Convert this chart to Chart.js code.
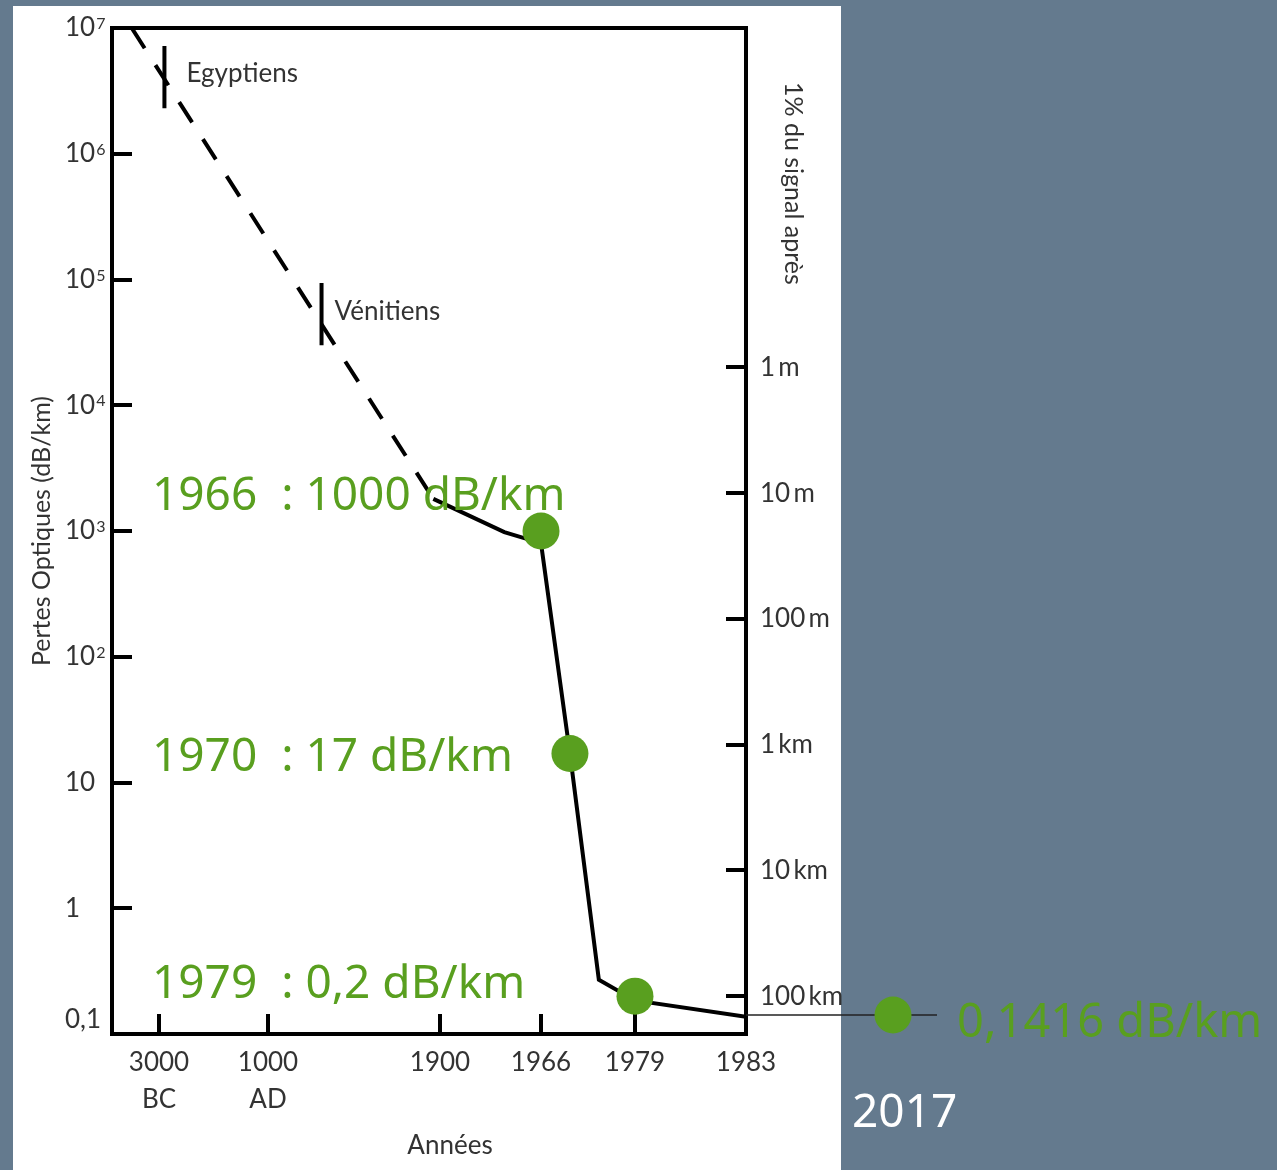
<!DOCTYPE html>
<html lang="fr">
<head>
<meta charset="utf-8">
<title>Pertes optiques des matériaux transparents</title>
<script src="https://cdn.jsdelivr.net/npm/chart.js@4.4.1/dist/chart.umd.min.js"></script>
<style>
  html, body { margin: 0; padding: 0; }
  body { width: 1277px; height: 1170px; background: #647a8e; position: relative; overflow: hidden; }
  #panel { position: absolute; left: 13px; top: 6px; width: 828px; height: 1164px; background: #ffffff; }
  #chart { position: absolute; left: 0; top: 0; }
</style>
</head>
<body>
<div id="panel"></div>
<canvas id="chart" width="1277" height="1170"></canvas>
<script>
// ---- Optical losses through history (dB/km) ----
const dashedYears = [-4000, 1865];
const dashedLoss = [1e7, 1800];
const solidYears = [1865, 1942, 1966, 1970, 1974, 1979, 1983];
const solidLoss = [1800, 980, 800, 17, 0.27, 0.185, 0.137];

const milestoneYears = [1966, 1970, 1979];
const milestoneLoss = [1000, 17, 0.2];
const milestoneLabels = ['1966  : 1000 dB/km', '1970  : 17 dB/km', '1979  : 0,2 dB/km'];

const recordYear = 2017;
const recordLoss = 0.1416;
const recordLabel = '0,1416 dB/km';
const leaderYears = [1983, 2017];

const eraNames = ['Egyptiens', 'Vénitiens'];
const eraYears = [-2800, 1280];
const eraLossHigh = [7.2e6, 9.4e4];
const eraLossLow = [2.3e6, 3.0e4];

// ---- Axes ----
const yearTicks = [-3000, 1000, 1900, 1966, 1979, 1983];
const yearTickLabels = [['3000', 'BC'], ['1000', 'AD'], ['1900'], ['1966'], ['1979'], ['1983']];

const lossTicks = [1e7, 1e6, 1e5, 1e4, 1e3, 1e2, 10, 1, 0.1];
const lossTickLabels = [['10', '7'], ['10', '6'], ['10', '5'], ['10', '4'], ['10', '3'], ['10', '2'], ['10', ''], ['1', ''], ['0,1', '']];
const LOSS_MIN = 0.1, LOSS_MAX = 1e7;

// Distance after which only 1 % of the signal remains (20 dB of attenuation)
const SIGNAL_DB = 20;
const distanceTicks = [0.001, 0.01, 0.1, 1, 10, 100]; // km
const distanceTickLabels = ['1\u2009m', '10\u2009m', '100\u2009m', '1\u2009km', '10\u2009km', '100\u2009km'];

// The time axis is broken: each break year sits at a fixed fraction of the axis length
const axisBreakYears = [-4723, -3000, 1000, 1900, 1966, 1979, 1983, 2017];
const axisBreakStops = [0, 0.0741, 0.2461, 0.5174, 0.6767, 0.8249, 1, 1.2319];

function yearToAxis(year) {
  const Y = axisBreakYears, S = axisBreakStops;
  let i = 0;
  while (i < Y.length - 2 && year > Y[i + 1]) i++;
  return S[i] + (year - Y[i]) * (S[i + 1] - S[i]) / (Y[i + 1] - Y[i]);
}
const points = (years, values) => years.map((yr, i) => ({ x: yearToAxis(yr), y: values[i] }));

// ---- Styles ----
const GREEN = '#599f1f';
const INK = '#333333';
const GRAY_FONT = 'Lato';
const BIG_FONT = '"Noto Sans"';

const axisGrid = { display: true, drawOnChartArea: false, drawTicks: true, tickLength: -20, color: '#000', lineWidth: 4 };
const axisBorder = { display: true, color: '#000', width: 4 };

const RECORD_INDEX = 1;

// fixed box sizes so the frame lands where wanted
const fixBox = (w, h) => s => {
  if (w !== null) s.width = w;
  if (h !== null) s.height = h;
  s.paddingTop = 0; s.paddingBottom = 0; s.paddingLeft = 0; s.paddingRight = 0;
};

const annotations = {
  id: 'annotations',
  afterDatasetsDraw(chart) {
    const { ctx } = chart;
    // record point lies beyond the frame: draw its element over the whole canvas
    const full = { left: 0, top: 0, right: chart.width, bottom: chart.height };
    const rec = chart.getDatasetMeta(RECORD_INDEX).data[0];
    ctx.save();
    ctx.strokeStyle = '#222';
    ctx.lineWidth = 1.3;
    ctx.beginPath();
    ctx.moveTo(rec.x, rec.y);
    ctx.lineTo(rec.x + 44, rec.y);
    ctx.stroke();
    ctx.restore();
    rec.draw(ctx, full);
  },
  afterDraw(chart) {
    const { ctx, chartArea, scales: { x, y } } = chart;
    ctx.save();

    // loss axis labels with exponents
    ctx.fillStyle = INK;
    ctx.textAlign = 'left';
    lossTicks.forEach((v, i) => {
      let py = y.getPixelForValue(v);
      py = Math.min(py, chartArea.bottom - 14);
      const [base, exp] = lossTickLabels[i];
      ctx.font = '26px ' + GRAY_FONT;
      ctx.textBaseline = 'middle';
      ctx.fillText(base, chartArea.left - 47, py);
      if (exp) {
        const w = ctx.measureText(base).width;
        ctx.font = '16px ' + GRAY_FONT;
        ctx.textBaseline = 'alphabetic';
        ctx.fillText(exp, chartArea.left - 47 + w + 1, py + 1);
      }
    });

    // right axis title, reading downward
    ctx.font = '25px ' + GRAY_FONT;
    ctx.save();
    ctx.translate(chartArea.right + 47, chartArea.top + 54);
    ctx.rotate(Math.PI / 2);
    ctx.textAlign = 'left';
    ctx.textBaseline = 'middle';
    ctx.fillText('1% du signal après', 0, 0);
    ctx.restore();

    // time axis title
    ctx.font = '26px ' + GRAY_FONT;
    ctx.textAlign = 'center';
    ctx.textBaseline = 'middle';
    ctx.fillText('Années', chartArea.left + 338, chartArea.bottom + 112);

    // era labels beside their markers
    const eraDx = [22, 13], eraDy = [5, 6];
    ctx.textAlign = 'left';
    ctx.textBaseline = 'alphabetic';
    eraNames.forEach((name, i) => {
      const px = x.getPixelForValue(yearToAxis(eraYears[i]));
      const py = (y.getPixelForValue(eraLossHigh[i]) + y.getPixelForValue(eraLossLow[i])) / 2;
      ctx.fillText(name, px + eraDx[i], py + eraDy[i]);
    });

    // milestone labels
    const mileDy = [-21, 17.5, 2];
    ctx.font = '46px ' + BIG_FONT;
    ctx.fillStyle = GREEN;
    milestoneLabels.forEach((txt, i) => {
      const py = y.getPixelForValue(milestoneLoss[i]);
      ctx.fillText(txt, chartArea.left + 40, py + mileDy[i]);
    });

    // record label and year
    const rx = x.getPixelForValue(yearToAxis(recordYear));
    const ry = y.getPixelForValue(recordLoss);
    ctx.font = '47px ' + BIG_FONT;
    ctx.fillText(recordLabel, rx + 64, ry + 22);
    ctx.fillStyle = '#ffffff';
    ctx.font = '46px ' + BIG_FONT;
    ctx.fillText(String(recordYear), rx - 41, ry + 112);

    ctx.restore();
  }
};

Chart.defaults.font.family = GRAY_FONT;
Chart.defaults.color = INK;

new Chart(document.getElementById('chart'), {
  type: 'line',
  data: {
    datasets: [
      { label: 'Jalons', data: points(milestoneYears, milestoneLoss), xAxisID: 'x', yAxisID: 'y',
        showLine: false, pointRadius: 18.5, pointHoverRadius: 18.5, pointBackgroundColor: GREEN,
        pointBorderWidth: 0, pointBorderColor: GREEN, order: 0 },
      { label: 'Record', data: points([recordYear], [recordLoss]), xAxisID: 'x', yAxisID: 'y',
        showLine: false, pointRadius: 18.5, pointHoverRadius: 18.5, pointBackgroundColor: GREEN,
        pointBorderWidth: 0, pointBorderColor: GREEN, clip: false, order: 0 },
      { label: 'Repère', data: points(leaderYears, [recordLoss, recordLoss]), xAxisID: 'x', yAxisID: 'y',
        borderColor: '#222', borderWidth: 1.3, pointRadius: 0, clip: false, order: 3 },
      { label: 'Pertes', data: points(solidYears, solidLoss), xAxisID: 'x', yAxisID: 'y',
        borderColor: '#000', borderWidth: 4, pointRadius: 0, order: 1 },
      { label: 'Pertes (estimées)', data: points(dashedYears, dashedLoss), xAxisID: 'x', yAxisID: 'y',
        borderColor: '#000', borderWidth: 4, borderDash: [24, 20], pointRadius: 0, order: 1 },
      { label: eraNames[0], data: points([eraYears[0], eraYears[0]], [eraLossHigh[0], eraLossLow[0]]), xAxisID: 'x', yAxisID: 'y',
        borderColor: '#000', borderWidth: 4, pointRadius: 0, order: 2 },
      { label: eraNames[1], data: points([eraYears[1], eraYears[1]], [eraLossHigh[1], eraLossLow[1]]), xAxisID: 'x', yAxisID: 'y',
        borderColor: '#000', borderWidth: 4, pointRadius: 0, order: 2 }
    ]
  },
  options: {
    responsive: false,
    animation: false,
    devicePixelRatio: 1,
    events: [],
    layout: { padding: 0 },
    plugins: { legend: { display: false }, tooltip: { enabled: false } },
    elements: { line: { tension: 0, borderCapStyle: 'butt', borderJoinStyle: 'miter' } },
    scales: {
      x: {
        type: 'linear', position: 'bottom', min: 0, max: 1,
        afterBuildTicks: s => { s.ticks = yearTicks.map(yr => ({ value: yearToAxis(yr) })); },
        afterFit: fixBox(null, 136),
        ticks: { autoSkip: false, maxRotation: 0, padding: 30.5, color: INK,
          font: { family: GRAY_FONT, size: 26, lineHeight: 1.42 },
          callback: (v, i) => yearTickLabels[i] },
        grid: axisGrid, border: axisBorder
      },
      xTop: {
        type: 'linear', position: 'top', min: 0, max: 1,
        afterFit: fixBox(null, 28),
        ticks: { display: false }, grid: { display: false }, border: axisBorder
      },
      y: {
        type: 'logarithmic', position: 'left', min: LOSS_MIN, max: LOSS_MAX,
        afterBuildTicks: s => { s.ticks = lossTicks.map(v => ({ value: v })); },
        afterFit: fixBox(112, null),
        ticks: { display: false },
        grid: axisGrid, border: axisBorder,
        title: { display: true, text: 'Pertes Optiques (dB/km)', color: INK,
          font: { family: GRAY_FONT, size: 25 }, padding: { top: 27, bottom: 0 } }
      },
      y2: {
        type: 'logarithmic', position: 'right', reverse: true,
        min: SIGNAL_DB / LOSS_MAX, max: SIGNAL_DB / LOSS_MIN,
        afterBuildTicks: s => { s.ticks = distanceTicks.map(v => ({ value: v })); },
        afterFit: fixBox(531, null),
        ticks: { display: true, padding: 34, color: INK, font: { family: GRAY_FONT, size: 26 },
          callback: (v, i) => distanceTickLabels[i] },
        grid: axisGrid, border: axisBorder
      }
    }
  },
  plugins: [annotations]
});
</script>
</body>
</html>
